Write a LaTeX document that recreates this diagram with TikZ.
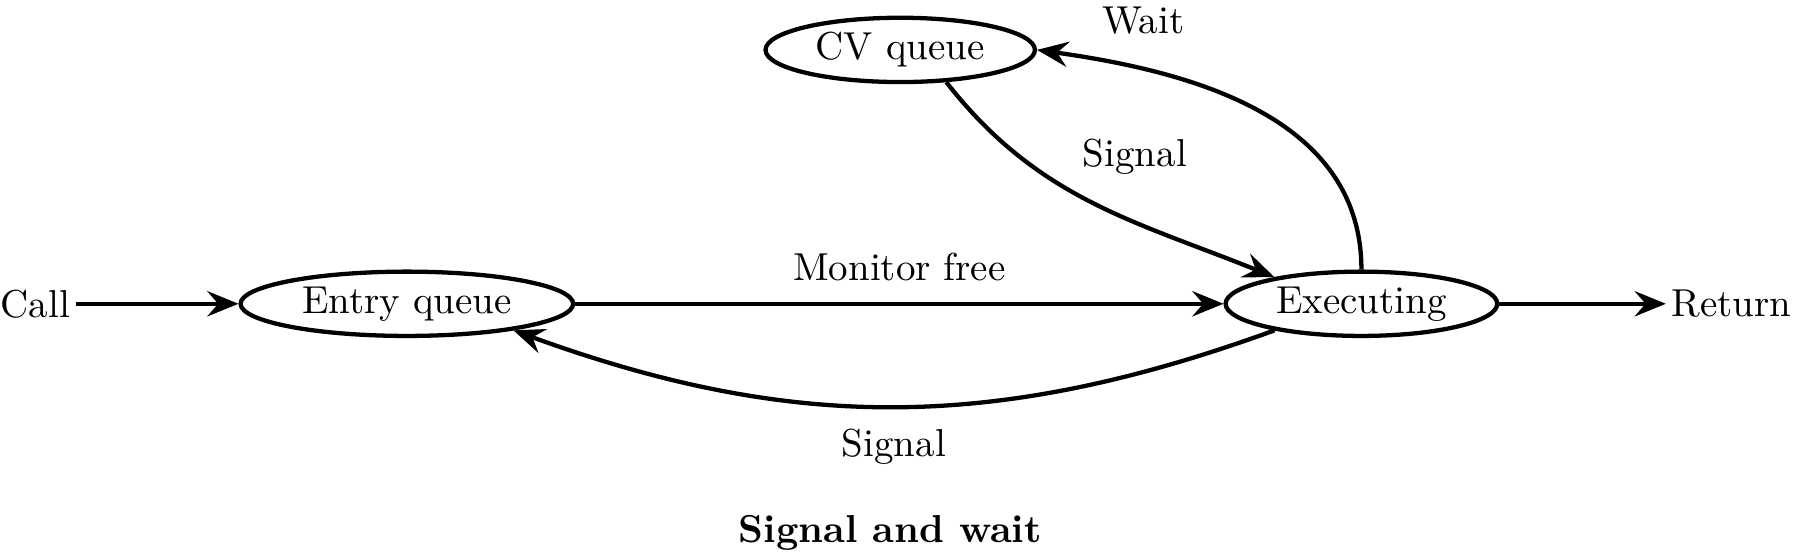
\documentclass[tikz,border=0pt]{standalone}
\usepackage{tikz}
\usetikzlibrary{arrows.meta,shapes.geometric}

\begin{document}
\begin{tikzpicture}[line width=1.1pt,>={Stealth[length=8pt,width=6.5pt,inset=2.8pt]},
	queue/.style={draw,ellipse,inner sep=0pt,minimum height=0.58cm},
	term/.style={inner sep=1pt}]
	\useasboundingbox (0,0) rectangle (16.2,5.01);
	% states
	\node[term] (call) at (0.32,2.27){Call};
	\node[queue,minimum width=3cm] (entry) at (3.67,2.27){Entry queue};
	\node[queue,minimum width=2.45cm] (exec) at (12.28,2.27){Executing};
	\node[term] (ret) at (15.62,2.27){Return};
	\node[queue,minimum width=2.43cm] (cv) at (8.12,4.56){CV queue};
	% transitions
	\draw[->] (call) -- (entry);
	\draw[->] (entry) -- node[above,yshift=2pt]{Monitor free} (exec);
	\draw[->] (exec) -- (ret);
	\draw[->] (exec.197) to[bend left=20] node[below=0.07cm]{Signal} (entry.-14);
	\draw[->] (exec.north) to[out=90,in=-8] node[at end,above right,xshift=0.45cm]{Wait} (cv.east);
	\draw[->] (cv.-35) to[out=-52,in=158] node[pos=0.42,above right]{Signal} (exec.163);
	\node (title) at (8.03,0.2){\textbf{Signal and wait}};
\end{tikzpicture}
\end{document}
